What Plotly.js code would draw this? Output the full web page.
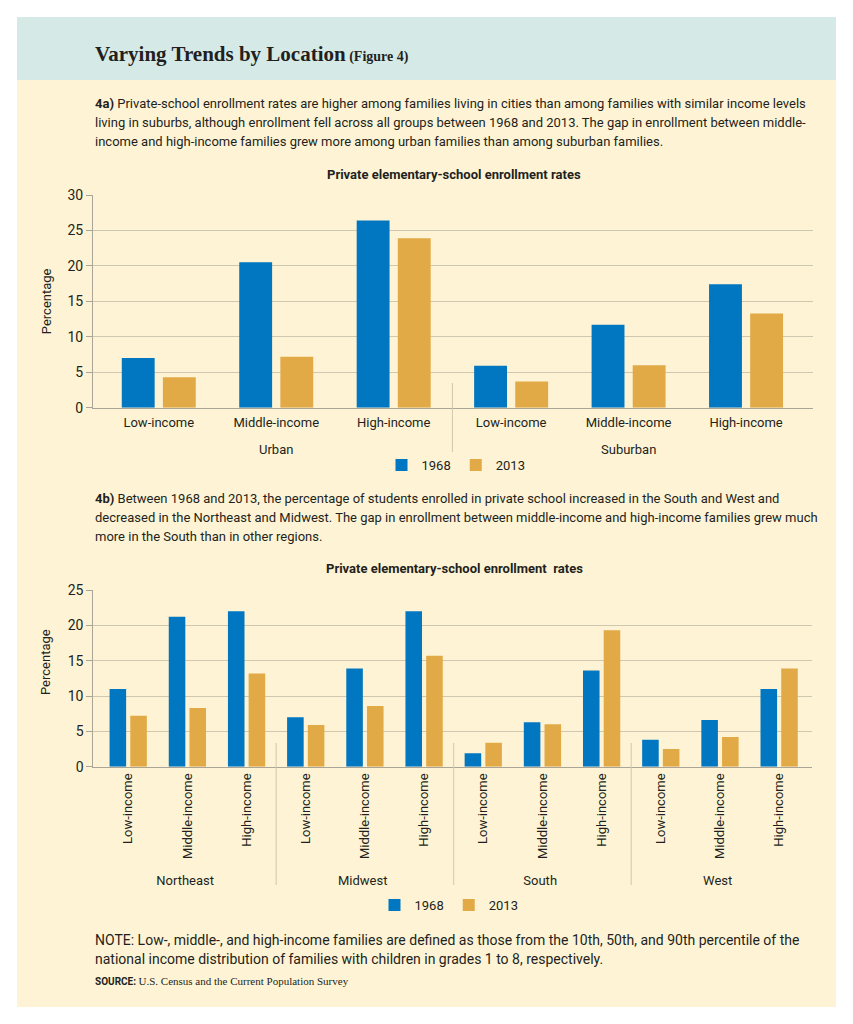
<!DOCTYPE html>
<html><head><meta charset="utf-8">
<script src="https://cdn.plot.ly/plotly-3.0.1.min.js"></script>
<style>html,body{margin:0;padding:0;background:#fff}</style>
</head><body><div id="chart" style="width:853px;height:1024px"></div>
<script>
// ---------------- data ----------------
const incomeLevels = ["Low-income", "Middle-income", "High-income"];
const locations = ["Urban", "Suburban"];
const regions = ["Northeast", "Midwest", "South", "West"];
const seriesNames = ["1968", "2013"];
const location1968 = [7.0, 20.5, 26.4, 5.9, 11.7, 17.4];
const location2013 = [4.3, 7.2, 23.9, 3.7, 6.0, 13.3];
const region1968 = [11.0, 21.2, 22.0, 7.0, 13.9, 22.0, 1.9, 6.3, 13.6, 3.8, 6.6, 11.0];
const region2013 = [7.2, 8.3, 13.2, 5.9, 8.6, 15.7, 3.4, 6.0, 19.3, 2.5, 4.2, 13.9];
const yTicks1 = [0, 5, 10, 15, 20, 25, 30];
const yTicks2 = [0, 5, 10, 15, 20, 25];

// ---------------- styling ----------------
const W = 853, H = 1024;
const px = v => v / W;
const py = v => 1 - v / H;
const BLUE = "#0077c0", GOLD = "#e2aa46";
const INK = "#231f20";
const SANS = "Roboto, 'Liberation Sans', sans-serif";
const SERIF = "'Liberation Serif', 'DejaVu Serif', serif";
const GRID = "#cfc8b0", AXIS = "#aaa597";

// chart 1: category keys (location + income) shown with income labels
const keys1 = locations.flatMap(l => incomeLevels.map(i => l + " " + i));
const text1 = locations.flatMap(() => incomeLevels);
// chart 2: two-level categories
const x2 = [regions.flatMap(g => incomeLevels.map(() => g)), regions.flatMap(() => incomeLevels)];

const traces = [
  {type: "bar", x: keys1, y: location1968, name: seriesNames[0], marker: {color: BLUE}, xaxis: "x", yaxis: "y", legend: "legend", hoverinfo: "skip"},
  {type: "bar", x: keys1, y: location2013, name: seriesNames[1], marker: {color: GOLD}, xaxis: "x", yaxis: "y", legend: "legend", hoverinfo: "skip"},
  {type: "bar", x: x2, y: region1968, name: seriesNames[0], marker: {color: BLUE}, xaxis: "x2", yaxis: "y2", legend: "legend2", hoverinfo: "skip"},
  {type: "bar", x: x2, y: region2013, name: seriesNames[1], marker: {color: GOLD}, xaxis: "x2", yaxis: "y2", legend: "legend2", hoverinfo: "skip"}
];

const range1 = [-0.56, 5.57], range2 = [-0.59, 11.55];
const frac = (v, r) => (v - r[0]) / (r[1] - r[0]);

const xCommon = {
  showline: true, linecolor: AXIS, linewidth: 1.5,
  ticks: "", showgrid: false, zeroline: false,
  tickfont: {family: SANS, size: 13, color: INK}
};
const yCommon = {
  showgrid: true, gridcolor: GRID, gridwidth: 1, showline: true, linecolor: AXIS, linewidth: 1,
  ticks: "outside", ticklen: 6, tickcolor: AXIS, zeroline: false,
  tickfont: {family: SANS, size: 14, color: INK}
};

function txt(text, x, y, opts = {}) {
  return Object.assign({
    text, xref: "paper", yref: "paper", x: px(x), y: py(y),
    xanchor: "left", yanchor: "middle", align: "left", showarrow: false,
    font: {family: SANS, size: 13, color: INK}
  }, opts);
}
const NOTEFONT = {family: SANS, size: 14, color: INK};

const annotations = [
  txt("<b>Varying Trends by Location</b><span style='font-size:14px'><b> (Figure 4)</b></span>", 93, 54,
      {font: {family: SERIF, size: 21, color: INK}}),
  txt("<b>4a)</b> Private-school enrollment rates are higher among families living in cities than among families with similar income levels", 93, 103),
  txt("living in suburbs, although enrollment fell across all groups between 1968 and 2013. The gap in enrollment between middle-", 93, 122),
  txt("income and high-income families grew more among urban families than among suburban families.", 93, 141),
  txt("<b>Private elementary-school enrollment rates</b>", 454, 174, {xanchor: "center"}),
  txt("<b>4b)</b> Between 1968 and 2013, the percentage of students enrolled in private school increased in the South and West and", 93, 498),
  txt("decreased in the Northeast and Midwest. The gap in enrollment between middle-income and high-income families grew much", 93, 517),
  txt("more in the South than in other regions.", 93, 536),
  txt("<b>Private elementary-school enrollment  rates</b>", 454, 568, {xanchor: "center"}),
  txt("Percentage", 45, 662, {xanchor: "center", textangle: -90}),
  txt("NOTE: Low-, middle-, and high-income families are defined as those from the 10th, 50th, and 90th percentile of the", 93, 940, {font: NOTEFONT}),
  txt("national income distribution of families with children in grades 1 to 8, respectively.", 93, 959, {font: NOTEFONT}),
  txt("<b>SOURCE:</b> <span style='font-family:Liberation Serif;font-size:11px'>U.S. Census and the Current Population Survey</span>", 93, 981, {font: {family: SANS, size: 10, color: INK}})
];
// group labels for chart 1, centred under the middle category of each group
locations.forEach(l => annotations.push({
  text: l, xref: "x", yref: "paper", x: l + " " + incomeLevels[1], y: py(449),
  xanchor: "center", yanchor: "middle", showarrow: false, font: {family: SANS, size: 13, color: INK}
}));

const shapes = [
  {type: "rect", xref: "paper", yref: "paper", x0: px(17), x1: px(836), y0: py(1007), y1: py(80), fillcolor: "#fef4d5", line: {width: 0}, layer: "below"},
  {type: "rect", xref: "paper", yref: "paper", x0: px(17), x1: px(836), y0: py(80), y1: py(17), fillcolor: "#d5eae7", line: {width: 0}, layer: "below"}
];
[2.5].forEach(v => shapes.push({type: "line", xref: "x domain", yref: "paper", x0: frac(v, range1), x1: frac(v, range1), y0: py(383), y1: py(452), line: {color: GRID, width: 1}}));
[2.5, 5.5, 8.5].forEach(v => shapes.push({type: "line", xref: "x2 domain", yref: "paper", x0: frac(v, range2), x1: frac(v, range2), y0: py(743), y1: py(885), line: {color: GRID, width: 1}}));

const legendCommon = {orientation: "h", xanchor: "center", yanchor: "middle", bgcolor: "rgba(0,0,0,0)",
  font: {family: SANS, size: 13, color: INK}, itemclick: false, itemdoubleclick: false, traceorder: "normal"};

const layout = {
  width: W, height: H, autosize: false,
  margin: {l: 0, r: 0, t: 0, b: 0, pad: 0},
  paper_bgcolor: "#ffffff", plot_bgcolor: "rgba(0,0,0,0)",
  font: {family: SANS, color: INK},
  barmode: "group", bargap: 0.3, bargroupgap: 0.2,
  xaxis: Object.assign({}, xCommon, {type: "category", domain: [px(93), px(813)], anchor: "y", range: range1,
    tickvals: keys1, ticktext: text1, tickangle: 0, ticklabelstandoff: 2}),
  yaxis: Object.assign({}, yCommon, {domain: [py(407.7), py(195)], anchor: "x", range: [0, 30], tickvals: yTicks1,
    title: {text: "Percentage", font: {family: SANS, size: 13, color: INK}, standoff: 12}}),
  xaxis2: Object.assign({}, xCommon, {type: "multicategory", showdividers: false, domain: [px(93.3), px(811.7)], anchor: "y2", range: range2, tickangle: -90}),
  yaxis2: Object.assign({}, yCommon, {domain: [py(766.7), py(590)], anchor: "x2", range: [0, 25], tickvals: yTicks2}),
  legend: Object.assign({}, legendCommon, {x: px(456), y: py(465)}),
  legend2: Object.assign({}, legendCommon, {x: px(449), y: py(905)}),
  showlegend: true,
  annotations, shapes
};

Plotly.newPlot("chart", traces, layout, {displayModeBar: false, staticPlot: true});
</script>
</body></html>
